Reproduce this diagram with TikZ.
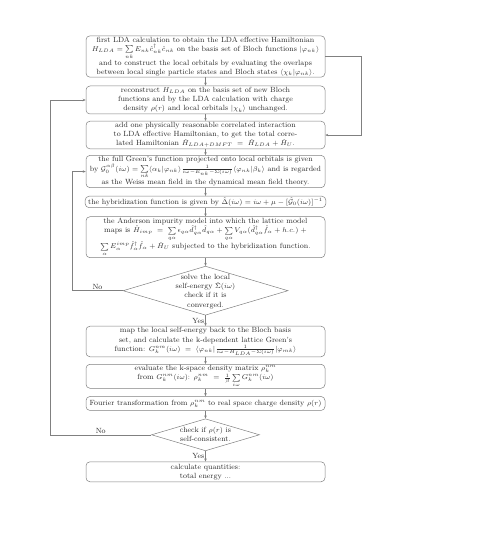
\documentclass[tikz,border=0pt]{standalone}
\usepackage{tikz}
\usetikzlibrary{shapes.geometric, arrows.meta, positioning}
\usepackage{amsmath, amssymb}
\definecolor{boxline}{HTML}{808080}
\definecolor{inktext}{HTML}{2B2B2B}
\newcommand{\boxfont}{\fontsize{7.5}{9.2}\selectfont}
\newcommand{\dtext}[1]{\makebox[0pt]{\smash{\raisebox{-2.5pt}{\begin{tabular}{@{}c@{}}#1\end{tabular}}}}}

\begin{document}
\begin{tikzpicture}[
  node distance=8pt,
  stagebox/.style={draw=boxline, rounded corners=4pt, line width=0.5pt, minimum width=239pt, inner xsep=3pt, inner ysep=1pt, align=center, font=\boxfont, text=inktext},
  decision/.style={diamond, draw=boxline, line width=0.5pt, inner sep=0pt, font=\boxfont, text=inktext},
  lbl/.style={font=\boxfont, text=inktext, inner sep=1pt},
  arr/.style={-{Stealth[length=3pt, width=2.5pt]}, boxline, line width=0.5pt}
]
\useasboundingbox (0,0) rectangle (479pt,-558pt);

% LDA part
\node[stagebox, minimum height=39pt] (lda) at (205.5pt,-56.5pt) {first LDA calculation to obtain the LDA effective Hamiltonian\\
  $H_{LDA}=\sum\limits_{nk}E_{nk}\hat{c}^{\dagger}_{nk}\hat{c}_{nk}$ on the basis set of Bloch functions $|\varphi_{nk}\rangle$\\
  and to construct the local orbitals by evaluating the overlaps\\
  between local single particle states and Bloch states $\langle\chi_{k}|\varphi_{nk}\rangle$.};
\node[stagebox, minimum height=28pt, below=8.3pt of lda] (recon) {reconstruct $H_{LDA}$ on the basis set of new Bloch\\
  functions and by the LDA calculation with charge\\
  density $\rho(r)$ and local orbitals $|\chi_{k}\rangle$ unchanged.};
\node[stagebox, minimum height=27.7pt, below=6.7pt of recon] (corr) {add one physically reasonable correlated interaction\\
  to LDA effective Hamiltonian, to get the total corre-\\
  lated Hamiltonian $\hat{H}_{LDA+DMFT} \;=\; \hat{H}_{LDA} + \hat{H}_{U}$.};

% DMFT loop
\node[stagebox, minimum height=32.3pt, below=6pt of corr] (green) {the full Green's function projected onto local orbitals is given\\
  by $\mathcal{G}^{\alpha\beta}_{0}(i\omega)=\sum\limits_{nk}\langle\alpha_{k}|\varphi_{nk}\rangle\frac{1}{i\omega-E_{nk}-\Sigma(i\omega)}\langle\varphi_{nk}|\beta_{k}\rangle$ and is regarded\\
  as the Weiss mean field in the dynamical mean field theory.};
\node[stagebox, minimum height=11.5pt, below=8pt of green] (hyb) {the hybridization function is given by $\hat{\Delta}(i\omega)=i\omega+\mu-[\hat{\mathcal{G}}_{0}(i\omega)]^{-1}$};
\node[stagebox, minimum height=41pt, below=8.5pt of hyb] (anderson) {the Anderson impurity model into which the lattice model\\
  maps is $\hat{H}_{imp} \;=\; \sum\limits_{q\alpha}\epsilon_{q\alpha}\hat{d}^{\dagger}_{q\alpha}\hat{d}_{q\alpha} + \sum\limits_{q\alpha}V_{q\alpha}(\hat{d}^{\dagger}_{q\alpha}\hat{f}_{\alpha} + h.c.) \;+$\\
  $\sum\limits_{\alpha}E^{imp}_{\alpha}\hat{f}^{\dagger}_{\alpha}\hat{f}_{\alpha} + \hat{H}_{U}$ subjected to the hybridization function.};
\node[decision, minimum width=165pt, minimum height=49pt, below=8pt of anderson] (solve) {\dtext{solve the local\\ self-energy $\hat{\Sigma}(i\omega)$\\ check if it is\\ converged.}};

% charge self-consistency
\node[stagebox, minimum height=30.6pt, below=10.5pt of solve] (lattice) {map the local self-energy back to the Bloch basis\\
  set, and calculate the k-dependent lattice Green's\\
  function: $G^{nm}_{k}(i\omega) \;=\; \langle\varphi_{nk}|\frac{1}{i\omega-H_{LDA}-\Sigma(i\omega)}|\varphi_{mk}\rangle$};
\node[stagebox, minimum height=24pt, below=7pt of lattice] (density) {evaluate the k-space density matrix $\rho^{nm}_{k}$\\
  from $G^{nm}_{k}(i\omega)$: $\rho^{nm}_{k} \;=\; \frac{1}{\beta}\sum\limits_{i\omega}G^{nm}_{k}(i\omega)$};
\node[stagebox, minimum height=14pt, below=7.7pt of density] (fourier) {Fourier transformation from $\rho^{nm}_{k}$ to real space charge density $\rho(r)$};
\node[decision, minimum width=108pt, minimum height=32pt, below=7.8pt of fourier] (scf) {\dtext{check if $\rho(r)$ is\\ self-consistent.}};
\node[stagebox, minimum height=20pt, below=10.5pt of scf] (final) {calculate quantities:\\ total energy ...};

\draw[arr] (lda) -- (recon);
\draw[arr] (recon) -- (corr);
\draw[arr] (lda.east) -- ++(35.5pt,0) |- (corr.east);
\draw[arr] (corr) -- (green);
\draw[arr] (green) -- (hyb);
\draw[arr] (hyb) -- (anderson);
\draw[arr] (anderson) -- (solve);
\draw[arr] (solve.west) -- ++(-50.5pt,0) node[lbl, midway, above] {No} |- (green.west);
\draw[arr] (solve) -- node[lbl, left] {Yes} (lattice);
\draw[arr] (lattice) -- (density);
\draw[arr] (density) -- (fourier);
\draw[arr] (fourier) -- (scf);
\draw[arr] (scf.west) -- ++(-101pt,0) node[lbl, midway, above] {No} |- (recon.west);
\draw[arr] (scf) -- node[lbl, left] {Yes} (final);

\end{tikzpicture}
\end{document}
